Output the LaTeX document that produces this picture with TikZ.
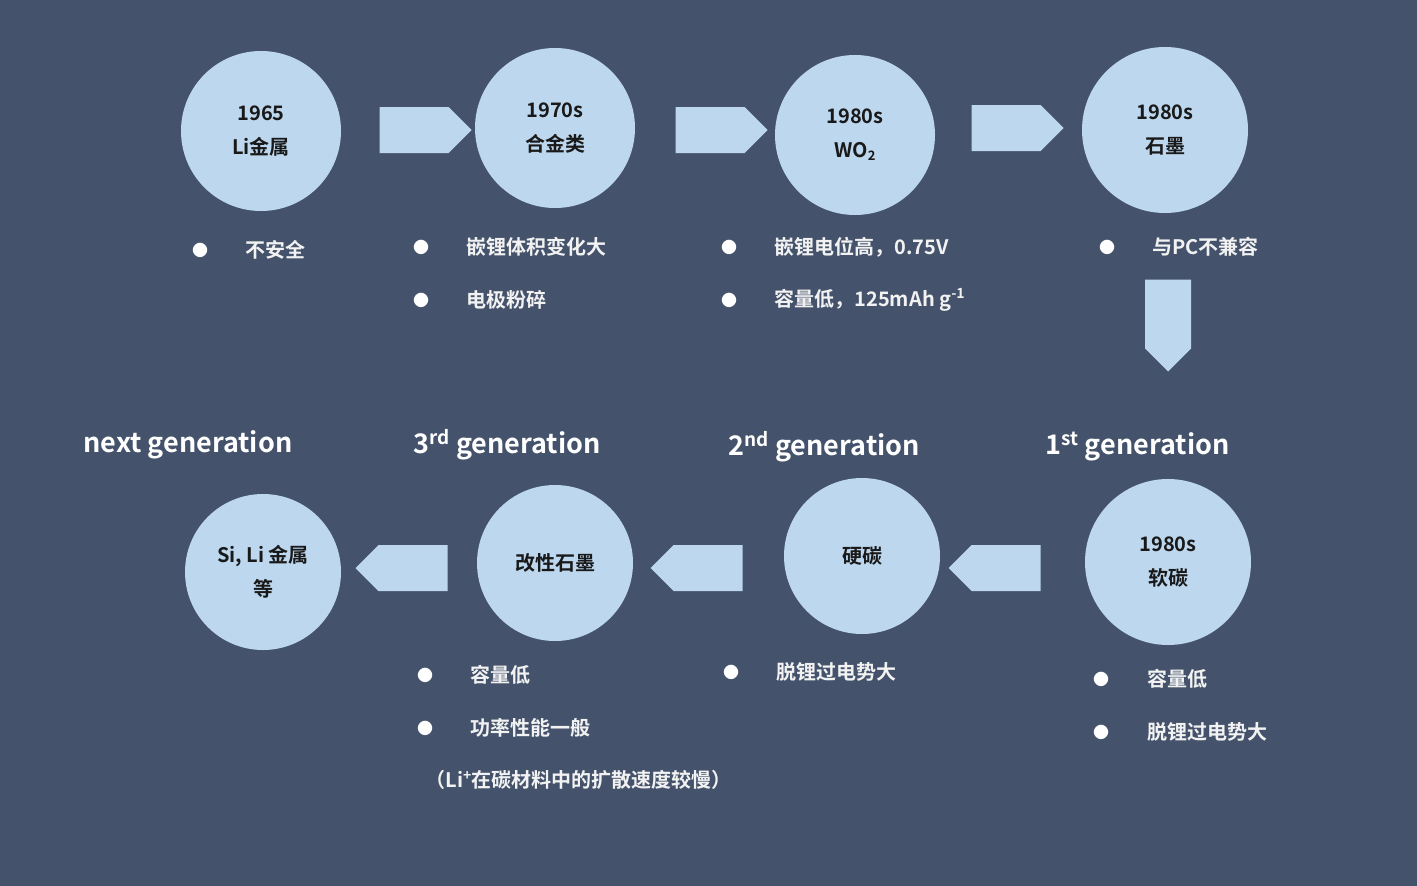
\documentclass[tikz,border=0pt]{standalone}
\usepackage{fontspec}
\setmainfont{Noto Sans CJK SC Bold}
\usetikzlibrary{shapes.arrows}
\definecolor{bgblue}{HTML}{44536B}
\definecolor{cirblue}{HTML}{BDD7EE}
\tikzset{every picture/.style={line width=1pt}}
\tikzset{
  era/.style={circle,fill=cirblue,text=black!90,align=center,font=\fontsize{20}{34}\selectfont,inner sep=0pt},
  blockarr/.style={single arrow,fill=cirblue,minimum height=92pt,minimum width=46pt,single arrow head extend=0pt,inner sep=7pt},
  bul/.style={anchor=center,text=white,font=\fontsize{16}{16}\selectfont,inner sep=0pt},
  note/.style={anchor=west,text=white!95!black,font=\fontsize{20}{24}\selectfont,inner sep=0pt},
  gen/.style={anchor=west,text=white,font=\fontsize{27}{30}\selectfont,inner sep=0pt}
}
\begin{document}
\begin{tikzpicture}[x=1pt,y=-1pt]
\fill[bgblue] (0,0) rectangle (1417,886);
\useasboundingbox (0,0) rectangle (1417,886);

%circles, top row
\node (c1965) [era,minimum size=160pt] at (261,131) {1965\\Li金属};
\node (c1970) [era,minimum size=160pt] at (555,128) {1970s\\合金类};
\node (cwo) [era,minimum size=160pt] at (855,135) {1980s\\WO\raisebox{-0.3ex}{\fontsize{13}{13}\selectfont 2}};
\node (cgra) [era,minimum size=166pt] at (1165,130) {1980s\\石墨};
%circles, bottom row
\node (csoft) [era,minimum size=166pt] at (1168,562) {1980s\\软碳};
\node (chard) [era,minimum size=156pt] at (862,556) {硬碳};
\node (cmod) [era,minimum size=156pt] at (555,563) {改性石墨};
\node (csi) [era,minimum size=156pt] at (263,572) {Si, Li 金属\\等};

%block arrows
\node (a1) [blockarr] at (414,130) {};
\node (a2) [blockarr] at (710,130) {};
\node (a3) [blockarr] at (1006,128) {};
\node (a4) [blockarr,rotate=-90] at (1168,314) {};
\node (a5) [blockarr,rotate=180] at (1006,568) {};
\node (a6) [blockarr,rotate=180] at (708,568) {};
\node (a7) [blockarr,rotate=180] at (413,568) {};

%notes, top row
\node (b11) [bul] at (200,250) {●};
\node (n11) [note] at (245,250) {不安全};
\node (b21) [bul] at (421,247) {●};
\node (n21) [note] at (466,247) {嵌锂体积变化大};
\node (b22) [bul] at (421,300) {●};
\node (n22) [note] at (466,300) {电极粉碎};
\node (b31) [bul] at (729,247) {●};
\node (n31) [note] at (774,247) {嵌锂电位高，0.75V};
\node (b32) [bul] at (729,300) {●};
\node (n32) [note] at (774,300) {容量低，125mAh g\textsuperscript{-1}};
\node (b41) [bul] at (1107,247) {●};
\node (n41) [note] at (1152,247) {与PC不兼容};

%generations
\node (gnext) [gen] at (83,445) {next generation};
\node (g3) [gen] at (413,445) {3\textsuperscript{rd} generation};
\node (g2) [gen] at (728,447) {2\textsuperscript{nd} generation};
\node (g1) [gen] at (1045,447) {1\textsuperscript{st} generation};

%notes, bottom row
\node (b51) [bul] at (425,675) {●};
\node (n51) [note] at (470,675) {容量低};
\node (b52) [bul] at (425,728) {●};
\node (n52) [note] at (470,728) {功率性能一般};
\node (n53) [note] at (425,780) {（Li\textsuperscript{+}在碳材料中的扩散速度较慢）};
\node (b61) [bul] at (731,672) {●};
\node (n61) [note] at (776,672) {脱锂过电势大};
\node (b71) [bul] at (1101,679) {●};
\node (n71) [note] at (1147,679) {容量低};
\node (b72) [bul] at (1101,732) {●};
\node (n72) [note] at (1147,732) {脱锂过电势大};

\end{tikzpicture}
\end{document}
